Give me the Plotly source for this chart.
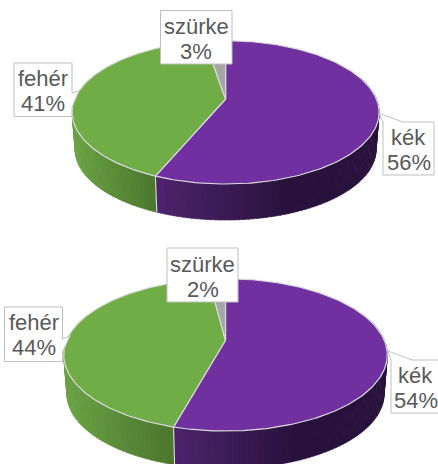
import numpy as np
import plotly.graph_objects as go

# ---- data (percent shares) ----
categories = ["kék", "fehér", "szürke"]
values_top = [56.3, 41.1, 2.6]
values_bottom = [54.3, 43.7, 2.0]
labels_top = ["56%", "41%", "3%"]
labels_bottom = ["54%", "44%", "2%"]

# ---- styles ----
FACE = ["#7030A0", "#70AD47", "#A5A5A5"]
SIDE_L = [(78, 36, 110), (106, 162, 68), (120, 120, 120)]
SIDE_R = [(40, 18, 60), (76, 118, 46), (90, 90, 90)]
RIM = "#DADADA"
BOX_LINE = "#BFBFBF"
TEXT = "#595959"
FONT = "Liberation Sans"
FS = 22

# ---- geometry of each projected pie ----
PIE_TOP = dict(cx=225.6, cy=99.0, A=150.8, B=69.2, p=0.186, depth=37.7, shrink=0.98,
               side_x=[(157, 290), (76, 157), (0, 1)])
PIE_BOT = dict(cx=225.5, cy=340.3, A=158.8, B=73.4, p=0.191, depth=39.5, shrink=0.98,
               side_x=[(174, 295), (66, 174), (0, 1)])


def project(g, ang, bottom=False):
    """ang: clockwise from 12 o'clock, radians."""
    x, y = np.sin(ang), np.cos(ang)
    w = 1 + g["p"] * y
    s = g["shrink"] if bottom else 1.0
    d = g["depth"] if bottom else 0.0
    return g["cx"] + s * g["A"] * x / w, g["cy"] + d - s * g["B"] * y / w


def mix(a, b, t):
    t = min(1, max(0, t))
    return "rgb(%d,%d,%d)" % tuple(a[i] + (b[i] - a[i]) * t for i in range(3))


fig = go.Figure()


def add_pie(g, values):
    edges = np.concatenate([[0], np.cumsum(values)]) / sum(values) * 2 * np.pi
    # side wall
    for i in range(len(values)):
        a0, a1 = edges[i], edges[i + 1]
        n = max(2, int((a1 - a0) / np.radians(1.5)))
        steps = np.linspace(a0, a1, n + 1)
        for s0, s1 in zip(steps[:-1], steps[1:]):
            if np.cos((s0 + s1) / 2) > 0.3:
                continue
            x0, y0 = project(g, np.array([s0, s1 + 0.004]))
            x1, y1 = project(g, np.array([s1 + 0.004, s0]), bottom=True)
            xm = (x0.mean() + x1.mean()) / 2
            lo, hi = g["side_x"][i]
            col = mix(SIDE_L[i], SIDE_R[i], (xm - lo) / (hi - lo))
            fig.add_trace(go.Scatter(
                x=list(x0) + list(x1) + [x0[0]], y=list(y0) + list(y1) + [y0[0]],
                mode="lines", fill="toself", fillcolor=col,
                line=dict(color=col, width=0.6), hoverinfo="skip", showlegend=False))
    # front split line on the wall
    for e in edges[1:-1]:
        if np.cos(e) < 0 and np.sin(e) != 0:
            xa, ya = project(g, np.array([e]))
            xb, yb = project(g, np.array([e]), bottom=True)
            fig.add_trace(go.Scatter(
                x=[xa[0], xb[0]], y=[ya[0], yb[0]], mode="lines",
                line=dict(color=RIM, width=1.1), hoverinfo="skip", showlegend=False))
    # top faces
    for i in range(len(values)):
        arc = np.linspace(edges[i], edges[i + 1], 200)
        xs, ys = project(g, arc)
        fig.add_trace(go.Scatter(
            x=[g["cx"]] + list(xs) + [g["cx"]], y=[g["cy"]] + list(ys) + [g["cy"]],
            name=categories[i], mode="lines", fill="toself", fillcolor=FACE[i],
            line=dict(color=RIM, width=1.2), hoverinfo="skip", showlegend=False))


add_pie(PIE_TOP, values_top)
add_pie(PIE_BOT, values_bottom)


def callout(path, x_mid, y_a, y_b, name, pct):
    fig.add_shape(type="path", path=path, xref="x", yref="y", layer="above",
                  fillcolor="white", line=dict(color=BOX_LINE, width=1))
    for txt, yy in ((name, y_a), (pct, y_b)):
        fig.add_annotation(x=x_mid, y=yy, xref="x", yref="y", text=txt, showarrow=False,
                           xanchor="center", yanchor="middle",
                           font=dict(family=FONT, size=FS, color=TEXT))


# upper chart labels
callout("M 383 122 L 379 113.5 L 403 122 L 434 122 L 434 175 L 383 175 Z", 408.5, 137, 162,
        categories[0], labels_top[0])
callout("M 14 63 L 72 63 L 72 93 L 79 91 L 72 107 L 72 116.5 L 14 116.5 Z", 43, 78, 103,
        categories[1], labels_top[1])
callout("M 160.5 10.5 L 232 10.5 L 232 64 L 160.5 64 Z", 196, 26, 51,
        categories[2], labels_top[2])

# lower chart labels
callout("M 391 360 L 388 351 L 412 360 L 445 360 L 445 413 L 391 413 Z", 415.5, 375, 400,
        categories[0], labels_bottom[0])
callout("M 4.5 307 L 62.5 307 L 62.5 339 L 70 336 L 62.5 352 L 62.5 361.5 L 4.5 361.5 Z", 33.5, 322, 347,
        categories[1], labels_bottom[1])
callout("M 167 248 L 238 248 L 238 302 L 167 302 Z", 202.5, 264, 289,
        categories[2], labels_bottom[2])

fig.update_layout(
    width=438, height=464, autosize=False,
    margin=dict(l=0, r=0, t=0, b=0),
    paper_bgcolor="white", plot_bgcolor="white", showlegend=False,
    xaxis=dict(range=[0, 438], visible=False, fixedrange=True),
    yaxis=dict(range=[464, 0], visible=False, fixedrange=True),
)
fig.write_html("out.html", config=dict(displayModeBar=False),
               post_script="document.body.style.margin='0';document.body.style.overflow='hidden';")
